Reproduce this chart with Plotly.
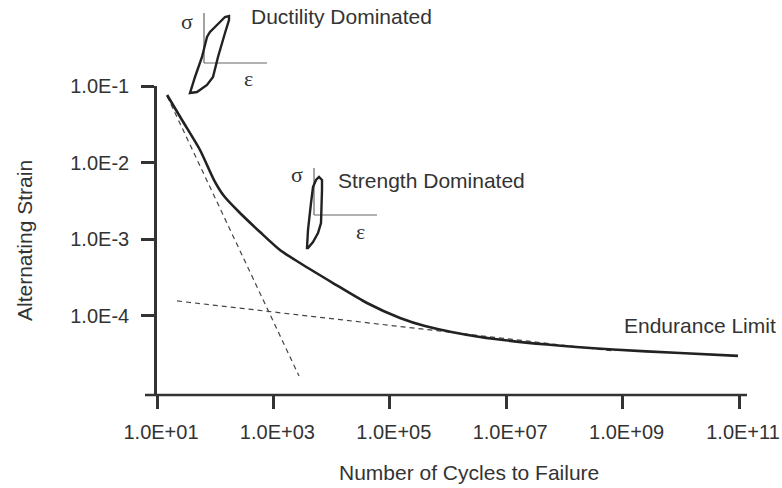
import plotly.graph_objects as go

W, H = 782, 488

# ---------------- data ----------------
cycles_total = [14.9, 26.9, 54.8, 95.4, 141.7, 266.8, 588.6, 1297, 2864, 1.057e4,
                4.058e4, 1.497e5, 4.025e5, 3.55e6, 5.02e7, 6.84e8, 9.68e9, 9.6e10]
strain_total = [0.0762, 0.0359, 0.01457, 0.0059, 0.003648, 0.002187, 0.001235, 7.18e-4,
                4.856e-4, 2.659e-4, 1.457e-4, 9.275e-5, 7.29e-5, 5.236e-5, 4.177e-5,
                3.593e-5, 3.234e-5, 2.972e-5]
cycles_plastic = [14.9, 2754]
strain_plastic = [0.074, 1.62e-5]
cycles_elastic = [22.1, 7.5e8]
strain_elastic = [1.55e-4, 3.42e-5]

x_tick_vals = [1e1, 1e3, 1e5, 1e7, 1e9, 1e11]
x_tick_text = ["1.0E+01", "1.0E+03", "1.0E+05", "1.0E+07", "1.0E+09", "1.0E+11"]
y_tick_vals = [1e-4, 1e-3, 1e-2, 1e-1]
y_tick_text = ["1.0E-4", "1.0E-3", "1.0E-2", "1.0E-1"]

# ---------------- decoration geometry (pixels) ----------------
ductile_loop = [(190, 93), (195, 77), (202, 57), (207, 37), (210, 32), (217, 25), (225, 17),
                (229, 16), (229, 20), (225, 33), (218, 57), (213, 77), (207, 85), (197, 92)]
strength_loop = [(307, 248), (308, 230), (311, 203), (313, 187), (316, 180), (319, 177),
                 (322, 180), (322, 190), (321, 223), (318, 233), (313, 242), (308, 248)]

FONT = "Liberation Sans, Arial, sans-serif"
SERIF = "Liberation Serif, Times New Roman, serif"
TXT = "#333333"
LINE = "#222222"


def px(x):
    return x / W


def py(y):
    return 1 - y / H


def path_from(points):
    s = "M {:.5f},{:.5f}".format(px(points[0][0]), py(points[0][1]))
    for x, y in points[1:]:
        s += " L {:.5f},{:.5f}".format(px(x), py(y))
    return s + " Z"


fig = go.Figure()
fig.add_trace(go.Scatter(x=cycles_plastic, y=strain_plastic, mode="lines",
                         line=dict(color="#444444", width=1.2, dash="5px,4px"),
                         hoverinfo="skip"))
fig.add_trace(go.Scatter(x=cycles_elastic, y=strain_elastic, mode="lines",
                         line=dict(color="#444444", width=1.2, dash="5px,4px"),
                         hoverinfo="skip"))
fig.add_trace(go.Scatter(x=cycles_total, y=strain_total, mode="lines",
                         line=dict(color=LINE, width=2.6, shape="spline", smoothing=0.7),
                         hoverinfo="skip"))

shapes = []
# x axis line (extends slightly beyond plot area on both ends)
shapes.append(dict(type="line", xref="paper", yref="paper", x0=px(145), x1=px(747),
                   y0=py(395), y1=py(395), line=dict(color=TXT, width=2.6)))
# hysteresis loops and their small axes
for (vx, vy0, vy1, hx1) in [(204, 13, 63, 267), (314, 168, 215, 377)]:
    shapes.append(dict(type="line", xref="paper", yref="paper", x0=px(vx), x1=px(vx),
                       y0=py(vy0), y1=py(vy1), line=dict(color="#666666", width=1.2)))
    shapes.append(dict(type="line", xref="paper", yref="paper", x0=px(vx), x1=px(hx1),
                       y0=py(vy1), y1=py(vy1), line=dict(color="#666666", width=1.2)))
for loop in (ductile_loop, strength_loop):
    shapes.append(dict(type="path", xref="paper", yref="paper", path=path_from(loop),
                       line=dict(color=LINE, width=2.4)))

annotations = []


def label(text, x, y, size=21, xanchor="left", angle=0, family=FONT):
    annotations.append(dict(text=text, x=px(x), y=py(y), xref="paper", yref="paper",
                            xanchor=xanchor, yanchor="middle", showarrow=False,
                            textangle=angle, font=dict(family=family, size=size, color=TXT)))


label("Ductility Dominated", 249, 16)
label("Strength Dominated", 336, 180)
label("Endurance Limit", 622, 325)
label("σ", 187, 21, size=22, xanchor="center", family=SERIF)
label("ε", 248, 78, size=22, xanchor="center", family=SERIF)
label("σ", 297, 174, size=22, xanchor="center", family=SERIF)
label("ε", 360, 231, size=22, xanchor="center", family=SERIF)
label("Alternating Strain", 24, 241, size=21, xanchor="center", angle=-90)
label("Number of Cycles to Failure", 469, 472, size=21, xanchor="center")

fig.update_layout(
    template="none",
    width=W, height=H,
    margin=dict(l=0, r=0, t=0, b=0, pad=0, autoexpand=False),
    paper_bgcolor="white", plot_bgcolor="white",
    showlegend=False,
    shapes=shapes,
    annotations=annotations,
    font=dict(family=FONT, size=20, color=TXT),
    xaxis=dict(type="log", range=[1, 11], domain=[px(157), px(739)],
               automargin=False,
               tickvals=x_tick_vals, ticktext=x_tick_text,
               ticks="outside", ticklen=13, tickwidth=2.6, tickcolor=TXT,
               showline=False, showgrid=False, zeroline=False,
               ticklabelstandoff=6, ticklabelshift=4,
               tickfont=dict(family=FONT, size=20, color=TXT)),
    yaxis=dict(type="log", range=[-5.039, -1], domain=[py(395), py(86)],
               automargin=False,
               tickvals=y_tick_vals, ticktext=y_tick_text,
               ticks="outside", ticklen=13, tickwidth=2.6, tickcolor=TXT,
               showline=True, linewidth=2.6, linecolor=TXT,
               showgrid=False, zeroline=False,
               ticklabelstandoff=8,
               tickfont=dict(family=FONT, size=20, color=TXT)),
)

fig.write_html("out.html")
